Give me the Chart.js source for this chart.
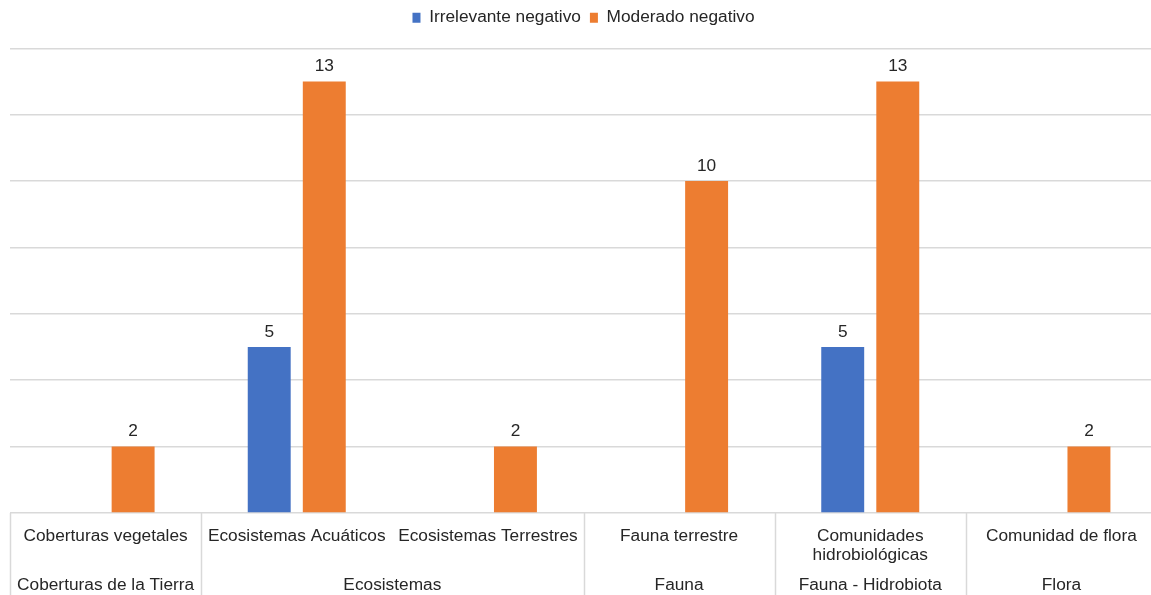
<!DOCTYPE html>
<html lang="es">
<head>
  <meta charset="UTF-8">
  <title>Impactos por componente</title>
  <script src="https://cdn.jsdelivr.net/npm/chart.js@4.4.1/dist/chart.umd.min.js"></script>
  <style>
    html, body { margin: 0; padding: 0; background: #fff; overflow: hidden; }
    .chart-container { width: 1157px; height: 595px; position: relative; }
  </style>
</head>
<body>
<div class="chart-container">
  <canvas id="chart"></canvas>
</div>
<script>
  // categorías (nivel 1) y grupos (nivel 2)
  const categories = [
    'Coberturas vegetales',
    'Ecosistemas Acuáticos',
    'Ecosistemas Terrestres',
    'Fauna terrestre',
    ['Comunidades', 'hidrobiológicas'],
    'Comunidad de flora'
  ];
  const groupLabels = ['Coberturas de la Tierra', 'Ecosistemas', 'Fauna', 'Fauna - Hidrobiota', 'Flora'];
  const groupSpans = [1, 2, 1, 1, 1];

  const irrelevante = [null, 5, null, null, 5, null];
  const moderado = [2, 13, 2, 10, 13, 2];

  const yTicks = [0, 2, 4, 6, 8, 10, 12, 14];

  const FONT = '"Liberation Sans", Arial, sans-serif';
  const FSIZE = 17.3;
  const TEXT = '#262626';
  const GRID = '#d9d9d9';

  // espacio extra bajo la leyenda
  const legendGap = {
    id: 'legendGap',
    beforeInit(chart) {
      const fit = chart.legend.fit;
      chart.legend.fit = function () {
        fit.call(this);
        this.height += 12;
      };
    }
  };

  // etiquetas de valor encima de cada barra
  const valueLabels = {
    id: 'valueLabels',
    afterDatasetsDraw(chart) {
      const ctx = chart.ctx;
      ctx.save();
      ctx.font = FSIZE + 'px ' + FONT;
      ctx.fillStyle = TEXT;
      ctx.textAlign = 'center';
      ctx.textBaseline = 'middle';
      chart.data.datasets.forEach((ds, di) => {
        const meta = chart.getDatasetMeta(di);
        meta.data.forEach((bar, i) => {
          if (ds.data[i] == null) return;
          ctx.fillText(ds.data[i], bar.x, bar.y - 15);
        });
      });
      ctx.restore();
    }
  };

  // eje de categorías en dos niveles con cajas
  const multiLevelAxis = {
    id: 'multiLevelAxis',
    afterDraw(chart) {
      const ctx = chart.ctx;
      const x = chart.scales.x;
      const area = chart.chartArea;
      const w = x.getPixelForValue(1) - x.getPixelForValue(0);
      const top = area.bottom;
      const bottom = chart.height;
      ctx.save();
      ctx.font = FSIZE + 'px ' + FONT;
      ctx.fillStyle = TEXT;
      ctx.textAlign = 'center';
      ctx.textBaseline = 'middle';

      categories.forEach((lab, i) => {
        const cx = x.getPixelForValue(i);
        const lines = Array.isArray(lab) ? lab : [lab];
        lines.forEach((ln, k) => ctx.fillText(ln, cx, top + 23 + k * 19));
      });

      ctx.strokeStyle = GRID;
      ctx.lineWidth = 1.5;
      let start = 0;
      const edges = [x.getPixelForValue(0) - w / 2];
      groupLabels.forEach((g, gi) => {
        const end = start + groupSpans[gi] - 1;
        const cx = (x.getPixelForValue(start) + x.getPixelForValue(end)) / 2;
        ctx.fillText(g, cx, top + 72);
        edges.push(x.getPixelForValue(end) + w / 2);
        start = end + 1;
      });
      edges.forEach(ex => {
        ctx.beginPath();
        ctx.moveTo(Math.round(ex) + 0.5, top);
        ctx.lineTo(Math.round(ex) + 0.5, bottom);
        ctx.stroke();
      });
      ctx.restore();
    }
  };

  new Chart(document.getElementById('chart'), {
    type: 'bar',
    data: {
      labels: categories,
      datasets: [
        {
          label: 'Irrelevante negativo',
          data: irrelevante,
          backgroundColor: '#4472C4',
          categoryPercentage: 0.576,
          barPercentage: 0.78
        },
        {
          label: 'Moderado negativo',
          data: moderado,
          backgroundColor: '#ED7D31',
          categoryPercentage: 0.576,
          barPercentage: 0.78
        }
      ]
    },
    options: {
      responsive: true,
      maintainAspectRatio: false,
      animation: false,
      layout: { padding: { left: 10, right: 0, top: 0, bottom: 0 } },
      plugins: {
        legend: {
          position: 'top',
          labels: {
            font: { family: FONT, size: FSIZE },
            color: TEXT,
            boxWidth: 8,
            boxHeight: 10,
            padding: 9
          }
        },
        tooltip: { enabled: false }
      },
      scales: {
        x: {
          grid: { display: false },
          border: { display: false },
          ticks: { display: false },
          afterFit(scale) { scale.height = 82; }
        },
        y: {
          min: 0,
          max: 14,
          afterBuildTicks(scale) { scale.ticks = yTicks.map(v => ({ value: v })); },
          ticks: { display: false },
          border: { display: false },
          grid: { color: GRID, lineWidth: 1.5, drawTicks: false }
        }
      }
    },
    plugins: [legendGap, valueLabels, multiLevelAxis]
  });
</script>
</body>
</html>
